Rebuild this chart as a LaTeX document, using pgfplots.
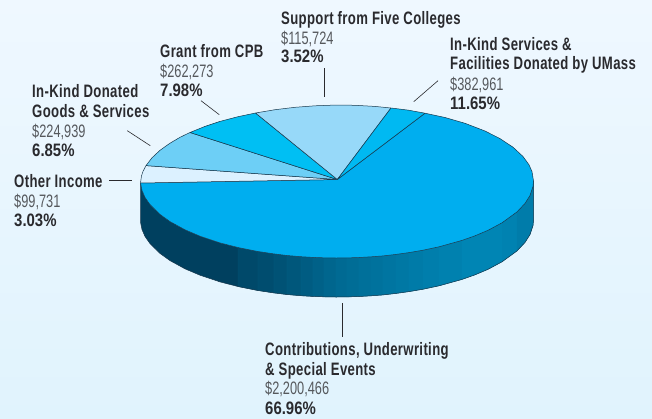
\documentclass[border=0pt]{standalone}
\usepackage{fontspec}
\usepackage{pgfplots}
\pgfplotsset{compat=1.18}
\setmainfont{Liberation Sans}
\newfontfamily\hd[FakeStretch=0.73,LetterSpace=2]{Liberation Sans Bold}
\newfontfamily\am[FakeStretch=0.71]{Liberation Sans}
\newfontfamily\pc[FakeStretch=0.83]{Liberation Sans Bold}

\definecolor{bgtop}{HTML}{EFF8FF}
\definecolor{bgbot}{HTML}{E0F3FD}
\definecolor{sdark}{HTML}{00405F}
\definecolor{slight}{HTML}{0088B8}
\definecolor{sline}{HTML}{1A9CCB}
\definecolor{edge}{HTML}{17374C}
\definecolor{txt}{HTML}{2A2A2E}
\definecolor{amt}{HTML}{55585C}

% one band of the pie's rim
\newcommand{\strip}[2]{\addplot[fill=slight!#1!sdark,draw=slight!#1!sdark!88!sline,line width=0.35pt] coordinates {#2} --cycle;}
% label: x, first baseline, lines
\newcommand{\lab}[3]{\node[anchor=base west,inner sep=0pt,text=#3] at (axis cs:#1,#2)}

\begin{document}
\begin{tikzpicture}
\begin{axis}[
    scale only axis,
    width=652pt,
    height=418pt,
    xmin=0, xmax=652,
    ymin=0, ymax=418,
    y dir=reverse,
    axis lines=none,
    clip=false,
    no markers,
    every axis plot/.append style={line join=round},
]
% background
\addplot[top color=bgtop,bottom color=bgbot,draw=none] coordinates {(0,0)(652,0)(652,418)(0,418)} --cycle;

% rim, dark left part
\addplot[fill=sdark,draw=none] coordinates {
    (140.5,183)(142,190.5)(145,197.4)(150,204.6)(160,214.4)(170,221.6)(185,229.8)(200,236.2)(220,242.9)(238,247.5)
    (238,286.5)(220,281.9)(200,275.2)(185,268.8)(170,260.6)(160,253.4)(150,243.6)(145,236.4)(142,229.5)(140.5,222)
} --cycle;
% rim bands
\strip{12}{(238,247.5)(258,251.5)(258,290.5)(238,286.5)}
\strip{18}{(258,251.5)(274,253.9)(274,292.9)(258,290.5)}
\strip{25}{(274,253.9)(287,255.5)(287,294.5)(274,292.9)}
\strip{32}{(287,255.5)(301,256.7)(301,295.7)(287,294.5)}
\strip{39}{(301,256.7)(313,257.4)(313,296.4)(301,295.7)}
\strip{46}{(313,257.4)(324,257.8)(324,296.8)(313,296.4)}
\strip{53}{(324,257.8)(336,258)(336,297)(324,296.8)}
\strip{58}{(336,258)(347,257.9)(347,296.9)(336,297)}
\strip{62}{(347,257.9)(359,257.5)(359,296.5)(347,296.9)}
\strip{66}{(359,257.5)(371,256.8)(371,295.8)(359,296.5)}
\strip{70}{(371,256.8)(383,255.9)(383,294.9)(371,295.8)}
\strip{74}{(383,255.9)(396,254.4)(396,293.4)(383,294.9)}
\strip{78}{(396,254.4)(409,252.6)(409,291.6)(396,293.4)}
\strip{82}{(409,252.6)(423,250.2)(423,289.2)(409,291.6)}
\strip{86}{(423,250.2)(439,246.8)(439,285.8)(423,289.2)}
\strip{90}{(439,246.8)(462,240.4)(462,279.4)(439,285.8)}
\strip{96}{(462,240.4)(475,235.8)(488,230.3)(502,222.8)(502,261.8)(488,269.3)(475,274.8)(462,279.4)}
\strip{92}{(502,222.8)(517,211.9)(517,250.9)(502,261.8)}
\strip{84}{(517,211.9)(525,203.4)(530,195.5)(533,186.5)(533.5,181)(533.5,220)(533,225.5)(530,234.5)(525,242.4)(517,250.9)}
% rim outline
\addplot[edge,line width=0.5pt] coordinates {
    (140.5,183)(140.5,222)(142,229.5)(145,236.4)(150,243.6)(160,253.4)(170,260.6)(185,268.8)(200,275.2)(220,281.9)(238,286.5)
    (258,290.5)(274,292.9)(287,294.5)(301,295.7)(313,296.4)(324,296.8)(336,297)(347,296.9)(359,296.5)(371,295.8)(383,294.9)
    (396,293.4)(409,291.6)(423,289.2)(439,285.8)(462,279.4)(475,274.8)(488,269.3)(502,261.8)(517,250.9)(525,242.4)(530,234.5)(533,225.5)(533.5,220)(533.5,181)
};

% Contributions, Underwriting & Special Events
\addplot[fill={rgb,255:red,0;green,174;blue,239},draw=edge,line width=0.5pt] coordinates {
    (337.3,179.5)(425,113.2)(445,117.5)(465,123.3)(485,131)(500,138.6)(513,147.2)(523,156.5)(529,164.8)(532,171.6)(533.5,181)
    (533,186.5)(530,195.5)(525,203.4)(517,211.9)(502,222.8)(488,230.3)(475,235.8)(462,240.4)(439,246.8)(423,250.2)(409,252.6)
    (396,254.4)(383,255.9)(371,256.8)(359,257.5)(347,257.9)(336,258)(324,257.8)(313,257.4)(301,256.7)(287,255.5)(274,253.9)
    (258,251.5)(238,247.5)(220,242.9)(200,236.2)(185,229.8)(170,221.6)(160,214.4)(150,204.6)(145,197.4)(142,190.5)(140.5,183)
} --cycle;
% Other Income
\addplot[fill={rgb,255:red,220;green,241;blue,255},draw=edge,line width=0.5pt] coordinates {
    (337.3,179.5)(140.5,183)(141.5,175.9)(143,171.4)(146,165.6)
} --cycle;
% In-Kind Donated Goods & Services
\addplot[fill={rgb,255:red,109;green,207;blue,246},draw=edge,line width=0.5pt] coordinates {
    (337.3,179.5)(146,165.6)(152,157.8)(160,150.3)(170,143.2)(180,137.3)(190,132.5)
} --cycle;
% Grant from CPB
\addplot[fill={rgb,255:red,0;green,191;blue,243},draw=edge,line width=0.5pt] coordinates {
    (337.3,179.5)(190,132.5)(205,126.4)(220,121.4)(238,116.7)(255.5,113)
} --cycle;
% Support from Five Colleges
\addplot[fill={rgb,255:red,151;green,217;blue,249},draw=edge,line width=0.5pt] coordinates {
    (337.3,179.5)(255.5,113)(275,109.7)(295,107.3)(315,105.8)(337,105)(355,105.3)(375,106.4)(391,108)
} --cycle;
% In-Kind Services & Facilities
\addplot[fill={rgb,255:red,0;green,185;blue,242},draw=edge,line width=0.5pt] coordinates {
    (337.3,179.5)(391,108)(408,110.1)(425,113.2)
} --cycle;

% leader lines
\addplot[txt,line width=0.6pt] coordinates {(324.5,68)(324.5,97)};
\addplot[txt,line width=0.6pt] coordinates {(201,100.7)(219.3,114.7)};
\addplot[txt,line width=0.6pt] coordinates {(127.3,130.7)(150.3,145.7)};
\addplot[txt,line width=0.6pt] coordinates {(109,180.3)(132,180.3)};
\addplot[txt,line width=0.6pt] coordinates {(438,80.7)(413.7,101.7)};
\addplot[txt,line width=0.8pt] coordinates {(342,303.3)(342,337.3)};

% labels
\fontsize{18}{20}\selectfont
\lab{281}{24}{txt}{\hd Support from Five Colleges};
\lab{281}{44}{amt}{\am \$115,724};
\lab{281}{62.7}{txt}{\pc 3.52\%};

\lab{160}{57.3}{txt}{\hd Grant from CPB};
\lab{160}{77.3}{amt}{\am \$262,273};
\lab{160}{96}{txt}{\pc 7.98\%};

\lab{32}{97.7}{txt}{\hd In-Kind Donated};
\lab{32}{117}{txt}{\hd Goods \& Services};
\lab{32}{137}{amt}{\am \$224,939};
\lab{32}{156}{txt}{\pc 6.85\%};

\lab{14}{187}{txt}{\hd Other Income};
\lab{14}{207}{amt}{\am \$99,731};
\lab{14}{226.7}{txt}{\pc 3.03\%};

\lab{450}{50}{txt}{\hd In-Kind Services \&};
\lab{450}{69.3}{txt}{\hd Facilities Donated by UMass};
\lab{450}{90}{amt}{\am \$382,961};
\lab{450}{109}{txt}{\pc 11.65\%};

\lab{265}{355}{txt}{\hd Contributions, Underwriting};
\lab{265}{375}{txt}{\hd \& Special Events};
\lab{265}{394.3}{amt}{\am \$2,200,466};
\lab{265}{414}{txt}{\pc 66.96\%};
\end{axis}
\end{tikzpicture}
\end{document}
